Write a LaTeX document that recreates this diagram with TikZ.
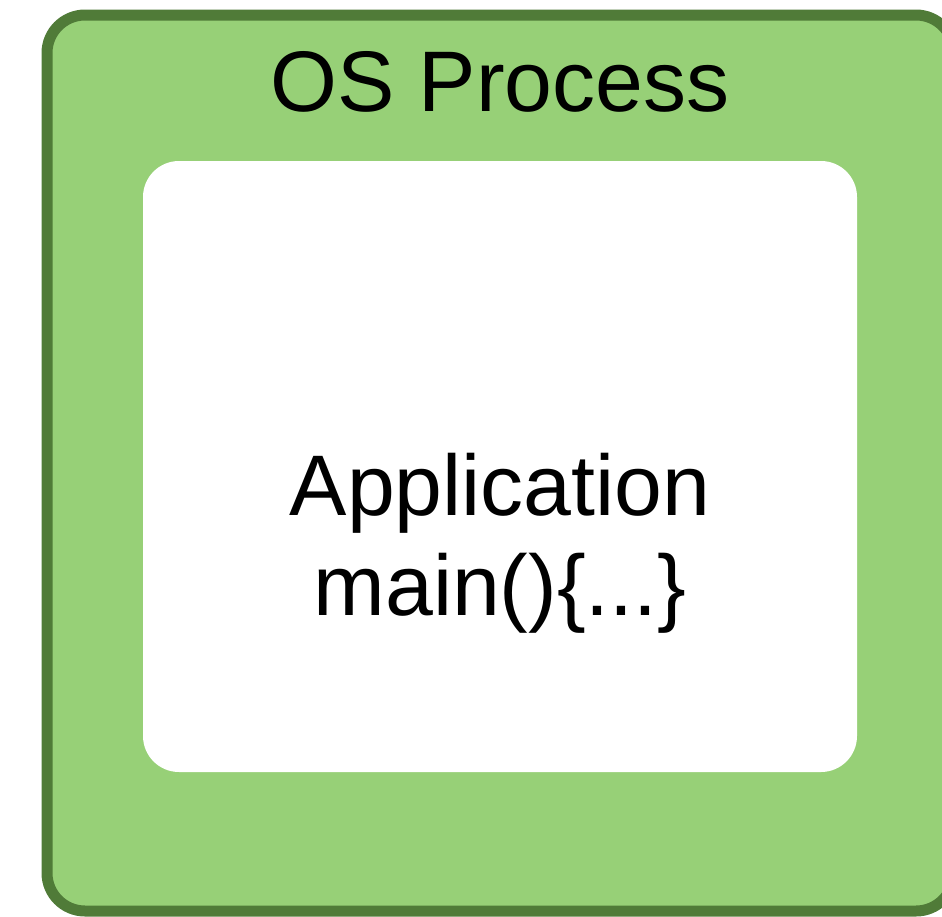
\documentclass[tikz,border=0pt]{standalone}
\usepackage{fontspec}
\setmainfont{Liberation Sans}
\usepackage{xcolor}
\usetikzlibrary{positioning,calc}

\definecolor{procgreen}{HTML}{97D077}
\definecolor{procborder}{HTML}{507B38}

\begin{document}
\begin{tikzpicture}[x=1pt, y=1pt, node distance=1.5cm, thick]
    \useasboundingbox (0,0) rectangle (942,-916);
    % OS process box
    \node[draw=procborder, fill=procgreen, line width=11pt, rounded corners=38pt, minimum width=907pt, minimum height=896pt, inner sep=0pt] (process) at (500.5,-463) {};
    \node[anchor=base, font=\fontsize{86}{100}\selectfont] (title) at (500,-111) {OS Process};
    
    % Application box
    \node[fill=white, rounded corners=36pt, minimum width=714pt, minimum height=611pt, inner sep=0pt] (app) at (500,-466.5) {};
    \node[anchor=base, font=\fontsize{86}{100}\selectfont] (appname) at (500,-515) {Application};
    \node[anchor=base, font=\fontsize{86}{100}\selectfont] (appmain) at ([yshift=-100pt]appname.base) {main()\{...\}};
\end{tikzpicture}
\end{document}
